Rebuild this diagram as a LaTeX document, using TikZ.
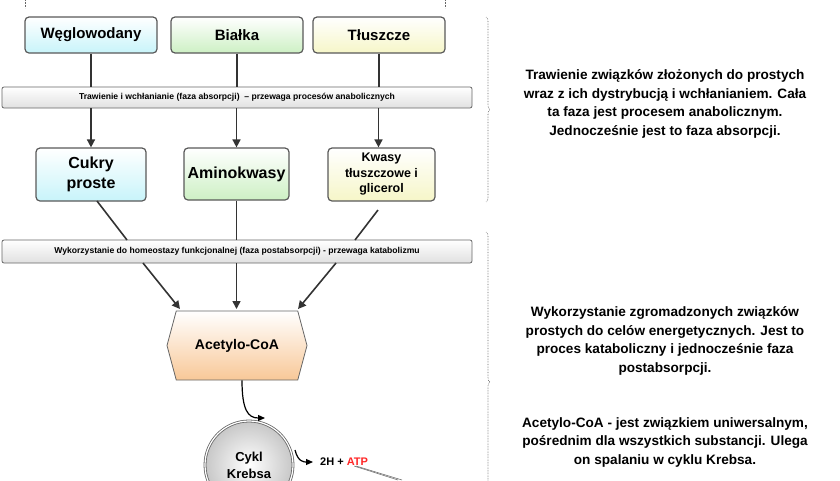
\documentclass[tikz,border=0pt]{standalone}
\usepackage{fontspec}
\setmainfont{Liberation Sans}
\usetikzlibrary{shapes.geometric,shapes.symbols,arrows.meta,decorations.pathreplacing}
\definecolor{cBlue}{HTML}{C8F4FA}
\definecolor{cGreen}{HTML}{CDF0C4}
\definecolor{cYel}{HTML}{F6F6C8}
\definecolor{cOr}{HTML}{F8C898}
\begin{document}
\begin{tikzpicture}[x=1pt,y=-1pt,
  box/.style={draw=black!65,line width=1.2pt,rounded corners=4pt,inner sep=0pt,font=\bfseries\fontsize{15}{18}\selectfont,align=center},
  bar/.style={draw=black!60,line width=0.8pt,rounded corners=2pt,top color=white,bottom color=black!12,inner sep=0pt,font=\bfseries\fontsize{8.6}{10}\selectfont},
  ln/.style={draw=black!80,line width=1.6pt},
  arr/.style={ln,-{Triangle[length=8pt,width=8pt]}},
  brace/.style={draw=black!60,densely dotted,line width=0.6pt,decorate,decoration={brace,amplitude=4pt}},
  rtxt/.style={font=\bfseries\fontsize{13.6}{18.5}\selectfont,align=center}]
\useasboundingbox (0,0) rectangle (840,480);
\draw[black!60,densely dotted,line width=0.6pt] (25,0)--(25,8) (445,0)--(445,8);
\node[box,top color=white,bottom color=cBlue,minimum width=132pt,minimum height=36pt] (w) at (91,35) {Węglowodany};
\node[box,top color=white,bottom color=cGreen,minimum width=132pt,minimum height=36pt] (b) at (237,35) {Białka};
\node[box,top color=white,bottom color=cYel,minimum width=132pt,minimum height=36pt] (t) at (379,35) {Tłuszcze};
\node[bar,minimum width=470pt,minimum height=21pt] (bar1) at (237,97.5) {Trawienie i wchłanianie (faza absorpcji)\ \ -- przewaga procesów anabolicznych};
\node[box,top color=white,bottom color=cBlue,minimum width=110pt,minimum height=53pt,font=\bfseries\fontsize{16}{20}\selectfont] (c) at (91,174.5) {Cukry\\proste};
\node[box,top color=white,bottom color=cGreen,minimum width=105pt,minimum height=52pt,font=\bfseries\fontsize{16}{20}\selectfont] (a) at (236.5,174) {Aminokwasy};
\node[box,top color=white,bottom color=cYel,minimum width=107pt,minimum height=53pt,font=\bfseries\fontsize{12.5}{15.5}\selectfont] (k) at (381.5,174.5) {Kwasy\\tłuszczowe i\\glicerol};
\node[bar,minimum width=470pt,minimum height=23pt] (bar2) at (237,251.5) {Wykorzystanie do homeostazy funkcjonalnej (faza postabsorpcji) - przewaga katabolizmu};
\node[draw=black!60,line width=0.8pt,top color=white,bottom color=cOr,signal,signal to=east and west,signal pointer angle=150,minimum width=140pt,minimum height=69pt,inner sep=0pt,font=\bfseries\fontsize{14}{16}\selectfont] (ac) at (237,345.5) {Acetylo-CoA};
\node[circle,draw=black!60,double=white,double distance=1.2pt,line width=0.8pt,inner color=white,outer color=black!22,minimum size=88pt,inner sep=0pt,align=center,font=\bfseries\fontsize{13}{17}\selectfont] (kr) at (249,465) {Cykl\\Krebsa};
\node[anchor=west,inner sep=0pt,font=\bfseries\fontsize{11}{13}\selectfont] (atp) at (320,462) {2H + \textcolor{red!85}{ATP}};
\coordinate (cl) at (398,480);
\draw[black!55,line width=0.6pt] ([xshift=-14pt]atp.south east) -- (cl);
\draw[black!55,line width=0.6pt] ([xshift=-12pt]atp.south east) -- ([xshift=4pt]cl);
% connectors
\foreach \n in {w,b,t} \draw[ln] (\n.south) -- (\n.south|-bar1.north);
\draw[arr] (bar1.south-|c) -- (c.north);
\draw[arr] (bar1.south-|a) -- (a.north);
\draw[arr] (bar1.south-|k.north) ++(-3,0) -- ([xshift=-3pt]k.north);
\draw[ln] (97,201) -- (127,240);
\draw[arr] (143,263) -- (180,309);
\draw[ln] (a.south) -- (a.south|-bar2.north);
\draw[arr] (a.south|-bar2.south) -- (236.5,309);
\draw[ln] (378,210) -- (355,240);
\draw[arr] (336,263) -- (298,309);
\draw[line width=1.2pt,-{Triangle[length=7pt,width=6pt]}] (ac.south)++(5,0) .. controls (242,410) and (248,418) .. (265,418);
\draw[line width=1.2pt,-{Triangle[length=7pt,width=6pt]}] (295,450) .. controls (298,462) and (304,462) .. (313,462);
% braces
\draw[brace] (486,17) -- (486,202);
\draw[brace] (486,232) -- (486,532);
\node[rtxt] (t1) at (665,104) {Trawienie związków złożonych do prostych\\wraz z ich dystrybucją i wchłanianiem. Cała\\ta faza jest procesem anabolicznym.\\Jednocześnie jest to faza absorpcji.};
\node[rtxt] (t2) at (665,341) {Wykorzystanie zgromadzonych związków\\prostych do celów energetycznych. Jest to\\proces kataboliczny i jednocześnie faza\\postabsorpcji.};
\node[rtxt] (t3) at (665,442) {Acetylo-CoA - jest związkiem uniwersalnym,\\pośrednim dla wszystkich substancji. Ulega\\on spalaniu w cyklu Krebsa.};
\end{tikzpicture}
\end{document}
